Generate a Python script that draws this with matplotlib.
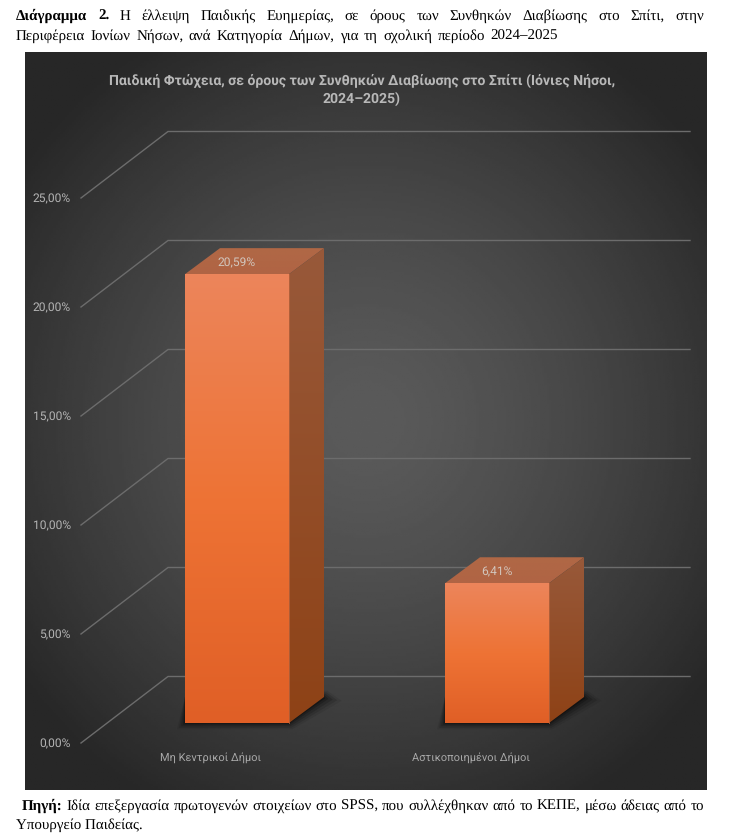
import numpy as np
from matplotlib import pyplot as plt
from matplotlib.patches import Polygon

plt.rcParams['text.hinting'] = 'none'
plt.rcParams['text.hinting_factor'] = 1

categories = ['Μη Κεντρικοί Δήμοι', 'Αστικοποιημένοι Δήμοι']
values = [20.59, 6.41]
value_labels = ['20,59%', '6,41%']
ticks = [0, 5, 10, 15, 20, 25]
tick_labels = ['0,00%', '5,00%', '10,00%', '15,00%', '20,00%', '25,00%']

W, H = 730, 836
PX_X = 260.0   # pixels for one category step
PX_Y = 21.8    # pixels for one percent

fig = plt.figure(figsize=(W / 100, H / 100), dpi=100, facecolor='white')
ax = fig.add_axes([25 / W, 1 - 790 / H, 682 / W, 738 / H])
ax.set_xlim((25 - 237) / PX_X, (707 - 237) / PX_X)
ax.set_ylim((723 - 790) / PX_Y, (723 - 52) / PX_Y)
ax.axis('off')
x0, x1 = ax.get_xlim()
y0, y1 = ax.get_ylim()

# panel background
yy, xx = np.mgrid[-1:1:300j, -1:1:300j]
r = np.clip(np.sqrt(xx ** 2 + (yy * 1.05) ** 2) / 1.25, 0, 1)
bg = 0.355 - 0.2 * r ** 1.4
ax.imshow(bg, extent=[x0, x1, y0, y1], cmap='gray', vmin=0, vmax=1, aspect='auto', zorder=0)

# grid: front edge, then depth to back wall, then along the wall
front_dy = -20 / PX_Y
back_dy = 46.5 / PX_Y
left_f = (81 - 237) / PX_X
left_b = (168 - 237) / PX_X
right_b = (690 - 237) / PX_X
for t, lab in zip(ticks, tick_labels):
    ax.plot([left_f, left_b, right_b], [t + front_dy, t + back_dy, t + back_dy],
            color='#6c6c6c', lw=1.0, zorder=1, solid_joinstyle='miter')
    ax.text((71 - 237) / PX_X, t + front_dy - 1.5 / PX_Y, lab, ha='right', va='center',
            color='#b4b4b4', fontsize=8.7, family='Roboto', zorder=5)

bar_w = 104 / PX_X
dep_x = 35 / PX_X
dep_y = 26 / PX_Y


def grad_face(pts, top, bottom, mid=None, z=3):
    cols = [top, mid, bottom] if mid is not None else [top, bottom]
    cols = np.array([plt.matplotlib.colors.to_rgb(c) for c in cols])
    pos = np.linspace(0, 1, 200)
    grad = np.stack([np.interp(pos, np.linspace(0, 1, len(cols)), cols[:, i]) for i in range(3)], axis=1)
    grad = grad[:, None, :]
    px = [p[0] for p in pts]
    py = [p[1] for p in pts]
    im = ax.imshow(grad, extent=[min(px), max(px), min(py), max(py)], aspect='auto', zorder=z)
    im.set_clip_path(Polygon(pts, closed=True, transform=ax.transData))


for i, v in enumerate(values):
    l = i - bar_w / 2
    r_ = i + bar_w / 2
    # shadow on floor
    for grow, a in zip([16, 12, 8, 4, 1], [0.08, 0.12, 0.16, 0.22, 0.3]):
        gx = grow / PX_X
        gy = grow * 0.4 / PX_Y
        ax.add_patch(Polygon([(l - gx * 0.5, -gy), (r_ + gx * 0.2, -gy), (r_ + dep_x + gx * 1.1, dep_y * 0.95 - gy * 0.4),
                              (r_ + dep_x + gx * 0.2, dep_y + gy), (l, dep_y)],
                             closed=True, fc='black', ec='none', alpha=a, zorder=2))
    grad_face([(l, v), (r_, v), (r_ + dep_x, v + dep_y), (l + dep_x, v + dep_y)], '#b06846', '#b06444', z=3)
    grad_face([(r_, 0), (r_ + dep_x, dep_y), (r_ + dep_x, v + dep_y), (r_, v)], '#98593a', '#8e4216', z=3)
    grad_face([(l, 0), (r_, 0), (r_, v), (l, v)], '#ec855b', '#e05f26', '#ee7335', z=4)
    ax.plot([r_, r_], [0, v], color='#b4623c', lw=0.6, zorder=4.5)
    ax.text(i, v + dep_y * 0.5 - 1.5 / PX_Y, value_labels[i], ha='center', va='center',
            color='#d2c6bd', fontsize=8.9, family='Roboto', zorder=6)
    ax.text(i - 26 / PX_X, -35 / PX_Y, categories[i], ha='center', va='center',
            color='#a8a8a8', fontsize=7.9, family='Roboto', zorder=6)

# chart title
fig.text(362 / W, 1 - 81 / H, 'Παιδική Φτώχεια, σε όρους των Συνθηκών Διαβίωσης στο Σπίτι (Ιόνιες Νήσοι,',
         ha='center', va='center', color='#b8b8b8', fontsize=10.3, fontweight='bold', family='Roboto')
fig.text(362 / W, 1 - 99 / H, '2024–2025)', ha='center', va='center', color='#b8b8b8',
         fontsize=10.3, fontweight='bold', family='Roboto')

# caption text, justified by hand
SERIF = 'Liberation Serif'
SIZE = 11.0
rend = fig.canvas.get_renderer()


def word_w(s, weight):
    t = fig.text(0, 0, s, fontsize=SIZE, family=SERIF, fontweight=weight)
    w = t.get_window_extent(rend).width
    t.remove()
    return w


def line(words, x_start, x_end, y):
    # words: list of (text, weight)
    ws = [word_w(w, b) for w, b in words]
    gap = (x_end - x_start - sum(ws)) / (len(words) - 1)
    x = x_start
    for (w, b), wd in zip(words, ws):
        fig.text(x / W, 1 - y / H, w, fontsize=SIZE, family=SERIF, fontweight=b, color='black',
                 ha='left', va='baseline')
        x += wd + gap


def mk(text, n_bold=0):
    return [(w, 'bold' if k < n_bold else 'normal') for k, w in enumerate(text.split())]


line(mk('Διάγραμμα 2. Η έλλειψη Παιδικής Ευημερίας, σε όρους των Συνθηκών Διαβίωσης στο Σπίτι, στην', 2),
     16, 704, 20)
line(mk('Περιφέρεια Ιονίων Νήσων, ανά Κατηγορία Δήμων, για τη σχολική περίοδο 2024–2025'), 16, 558, 40)
line(mk('Πηγή: Ιδία επεξεργασία πρωτογενών στοιχείων στο SPSS, που συλλέχθηκαν από το ΚΕΠΕ, μέσω άδειας από το', 1),
     22, 704, 810)
fig.text(16 / W, 1 - 829 / H, 'Υπουργείο Παιδείας.', fontsize=SIZE, family=SERIF, color='black',
         ha='left', va='baseline')

fig.savefig('out.png', dpi=100, facecolor='white')
